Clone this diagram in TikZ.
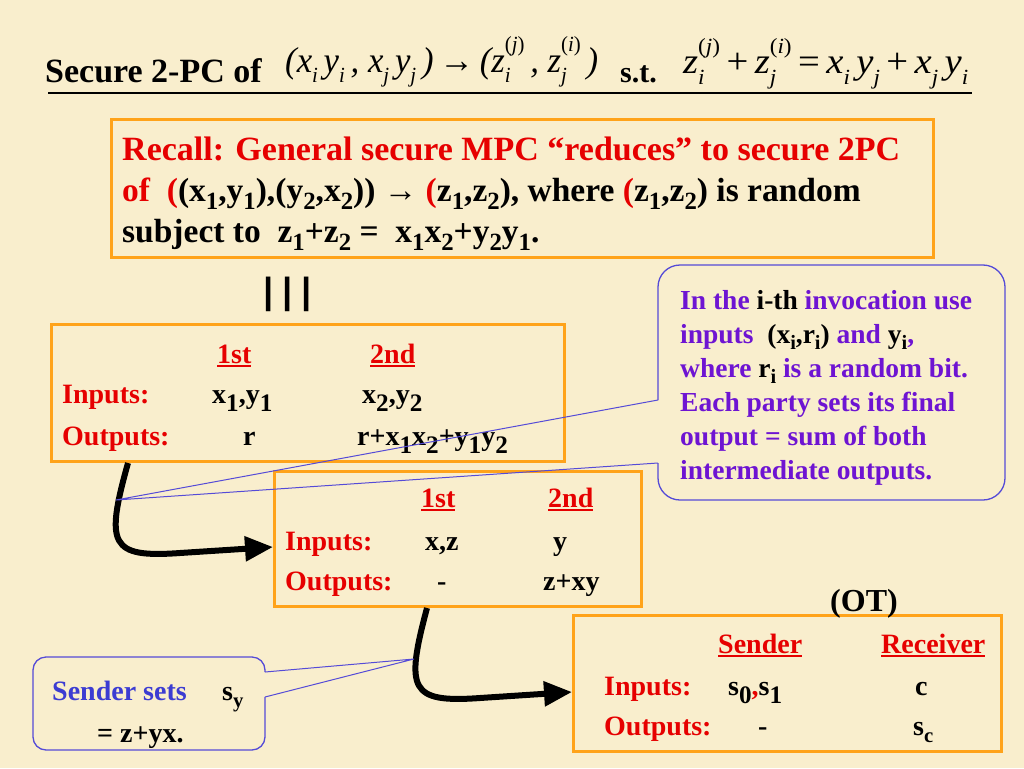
\documentclass[tikz,border=0pt]{standalone}
\usepackage{fontspec}
\usepackage{graphicx}
\setmainfont{Liberation Serif}
\usetikzlibrary{arrows.meta}
\definecolor{bg}{RGB}{249,238,205}
\definecolor{myred}{RGB}{230,0,0}
\definecolor{myorange}{RGB}{255,163,26}
\definecolor{cborder}{RGB}{85,75,215}
\definecolor{cpurple}{RGB}{110,20,210}
\definecolor{cblue}{RGB}{60,60,210}
\newcommand{\sbs}[1]{\raisebox{-0.25em}{\scalebox{0.74}{#1}}}
\newcommand{\bsb}[1]{\raisebox{-0.3em}{\scalebox{0.9}{#1}}}
\newcommand{\msb}[1]{\raisebox{-0.3em}{\scalebox{0.6}{#1}}}
\newcommand{\msp}[1]{\raisebox{0.58em}{\scalebox{0.6}{{\upshape(}#1{\upshape)}}}}
\newcommand{\zz}[2]{z\rlap{\msb{#1}}\msp{#2}}
\newcommand{\redul}[1]{\setbox0\hbox{#1}\rlap{\rule[-4pt]{\wd0}{2pt}}\box0}
\newcommand{\vbar}{\scalebox{1.9}[1.12]{|}}
\begin{document}
\begin{tikzpicture}[x=1pt,y=-1pt,
  txt/.style={inner sep=0pt,anchor=base west,font=\bfseries\fontsize{28}{32}\selectfont},
  head/.style={txt,text=myred},
  ctxt/.style={txt,text=cpurple,font=\bfseries\fontsize{27.5}{31}\selectfont},
  mth/.style={inner sep=0pt,anchor=base west,font=\itshape\fontsize{36}{40}\selectfont},
  orbox/.style={draw=myorange,line width=3pt,inner sep=0pt,anchor=north west},
  bigarrow/.style={line width=6pt,-{Triangle[length=28pt,width=24pt]}},
  callout/.style={draw=cborder,line width=1.3pt},
  pointer/.style={draw=cborder,line width=1pt},
]
\useasboundingbox (0,0) rectangle (1024,768);
\fill[bg] (0,0) rectangle (1024,768);

% title
\node[txt,font=\bfseries\fontsize{34}{40}\selectfont] (t1) at (45,82) {Secure 2-PC of};
\node[mth] (t2) at (285,72) {\resizebox{313pt}{\height}{(x\msb{i}\,y\msb{i}\,, x\msb{j}\,y\msb{j}\,)\,{\upshape →}\,(\zz{i}{j}\,, \zz{j}{i}\,)}};
\node[txt,font=\bfseries\fontsize{30}{36}\selectfont] (t3) at (620,82) {s.t.};
\node[mth] (t4) at (683,74) {\resizebox{285pt}{\height}{\zz{i}{j}\,{\upshape +}\,\zz{j}{i}\,{\upshape =}\,x\msb{i}\,y\msb{j}\,{\upshape +}\,x\msb{j}\,y\msb{i}}};
\coordinate (ul1) at (48,93);
\coordinate (ul2) at (972,93);
\draw[line width=2pt] (ul1) -- (ul2);

% boxes
\node[orbox,minimum width=822pt,minimum height=138pt] (box1) at (110,118) {};
\node[orbox,minimum width=513pt,minimum height=137pt] (box2) at (50,323) {};
\node[orbox,minimum width=367pt,minimum height=135pt] (box3) at (273,470) {};
\node[orbox,minimum width=428pt,minimum height=136pt] (box4) at (572,614) {};

% box 1 text
\node[txt,font=\bfseries\fontsize{34}{40}\selectfont,text=myred] (r1) at (122,160) {Recall: General secure MPC “reduces” to secure 2PC};
\node[txt,font=\bfseries\fontsize{33.5}{40}\selectfont] (r2) at (122,201) {\textcolor{myred}{of \ (}(x\sbs{1},y\sbs{1}),(y\sbs{2},x\sbs{2})) → \textcolor{myred}{(}z\sbs{1},z\sbs{2}), where \textcolor{myred}{(}z\sbs{1},z\sbs{2}) is random};
\node[txt,font=\bfseries\fontsize{33.5}{40}\selectfont] (r3) at (122,242) {subject to \ z\sbs{1}+z\sbs{2} = \ x\sbs{1}x\sbs{2}+y\sbs{2}y\sbs{1}.};

\node[txt,font=\bfseries\fontsize{34}{40}\selectfont] (eq) at (261,303) {\vbar\hspace{5pt}\vbar\hspace{5pt}\vbar};

% box 2 text
\node[head] (b2h1) at (217,363) {\redul{1st}};
\node[head] (b2h2) at (370,363) {\redul{2nd}};
\node[head] (b2i) at (62,403) {Inputs:};
\node[txt] (b2i1) at (212,403) {x\bsb{1},y\bsb{1}};
\node[txt] (b2i2) at (362,403) {x\bsb{2},y\bsb{2}};
\node[head] (b2o) at (62,445) {Outputs:};
\node[txt] (b2o1) at (243,445) {r};
\node[txt] (b2o2) at (357,445) {r+x\bsb{1}x\bsb{2}+y\bsb{1}y\bsb{2}};

% box 3 text
\node[head] (b3h1) at (421,507) {\redul{1st}};
\node[head] (b3h2) at (548,507) {\redul{2nd}};
\node[head] (b3i) at (285,550) {Inputs:};
\node[txt] (b3i1) at (425,550) {x,z};
\node[txt] (b3i2) at (553,550) {y};
\node[head] (b3o) at (285,590) {Outputs:};
\node[txt] (b3o1) at (437,590) {-};
\node[txt] (b3o2) at (543,590) {z+xy};

% OT box
\node[txt,font=\bfseries\fontsize{32}{36}\selectfont] (ot) at (830,611) {(OT)};
\node[head] (b4h1) at (718,653) {\redul{Sender}};
\node[head] (b4h2) at (881,653) {\redul{Receiver}};
\node[head] (b4i) at (604,695) {Inputs:};
\node[txt] (b4i1) at (728,695) {s\bsb{0}\textcolor{myred}{,}s\bsb{1}};
\node[txt] (b4i2) at (915,695) {c};
\node[head] (b4o) at (604,735) {Outputs:};
\node[txt] (b4o1) at (758,735) {-};
\node[txt] (b4o2) at (913,735) {s\sbs{c}};

% arrows
\coordinate (a1s) at (128,0 |- box2.south);
\coordinate (a1e) at (box3.west |- 0,547);
\draw[bigarrow] (a1s) .. controls (105,545) and (110,558) .. (180,553) -- (a1e);
\coordinate (a2s) at (427,0 |- box3.south);
\coordinate (a2e) at (box4.west |- 0,692);
\draw[bigarrow] (a2s) .. controls (405,690) and (410,703) .. (480,698) -- (a2e);

% callout 1
\coordinate (tip1) at (116,500);
\draw[callout,rounded corners=22pt] (658,463) -- (658,500) -- (1005,500) -- (1005,265) -- (658,265) -- (658,400);
\draw[pointer] (658,400) -- (tip1) -- (658,463);
\node[ctxt] (c1a) at (680,309) {In the \textcolor{black}{i-th} invocation use};
\node[ctxt] (c1b) at (680,343) {inputs \ \textcolor{black}{(x\sbs{i},r\sbs{i})} and \textcolor{black}{y\sbs{i}},};
\node[ctxt] (c1c) at (680,377) {where \textcolor{black}{r\sbs{i}} is a random bit.};
\node[ctxt] (c1d) at (680,411) {Each party sets its final};
\node[ctxt] (c1e) at (680,445) {output = sum of both};
\node[ctxt] (c1f) at (680,479) {intermediate outputs.};

% callout 2
\coordinate (tip2) at (414,659);
\draw[callout,rounded corners=13pt] (265,697) -- (265,750) -- (33,750) -- (33,657) -- (265,657) -- (265,672);
\draw[pointer] (265,672) -- (tip2) -- (265,697);
\node[txt,text=cblue] (c2a) at (52,700) {Sender sets};
\node[txt] (c2b) at (222,700) {s\sbs{y}};
\node[txt] (c2c) at (97,742) {= z+yx.};
\end{tikzpicture}
\end{document}
